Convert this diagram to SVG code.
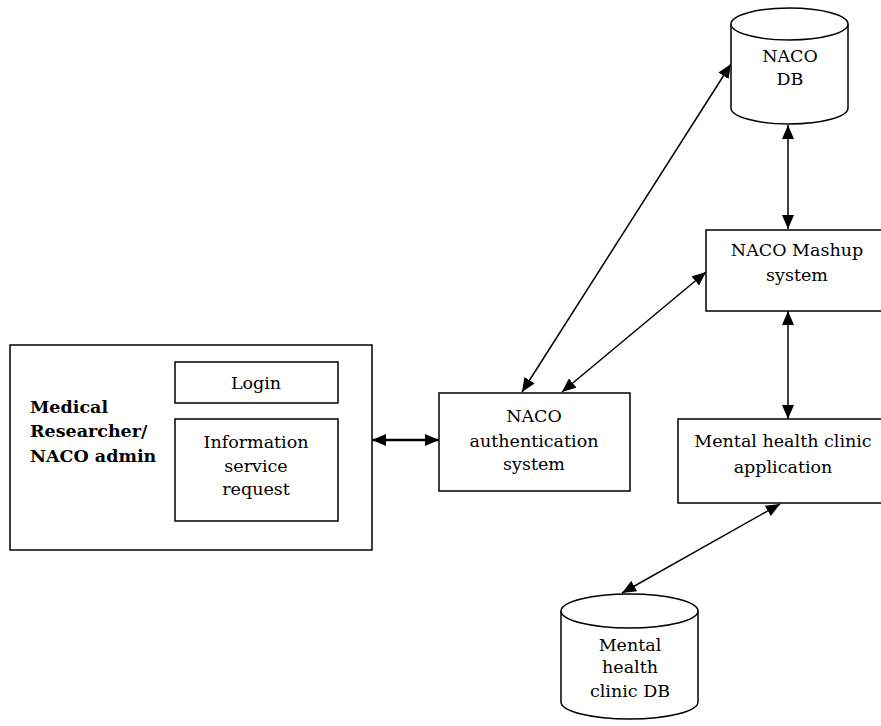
<svg xmlns="http://www.w3.org/2000/svg" width="881" height="726" viewBox="0 0 881 726">
<defs>
<style>
.box{fill:#fff;stroke:#000;stroke-width:1.5}
.t{font-family:"DejaVu Serif","Liberation Serif",serif;font-size:17.5px;fill:#000;text-anchor:middle}
.b{font-family:"DejaVu Serif","Liberation Serif",serif;font-size:17.5px;font-weight:bold;fill:#000}
.c{fill:none;stroke:#000;stroke-width:1.5;marker-start:url(#ah);marker-end:url(#ah)}
</style>
<marker id="ah" markerUnits="userSpaceOnUse" markerWidth="14" markerHeight="12" refX="14" refY="6" orient="auto-start-reverse" viewBox="0 0 14 12">
<path d="M0,0 L14,6 L0,12 z" fill="#000"/>
</marker>
</defs>
<rect width="881" height="726" fill="#fff"/>
<g id="connectors">
<line class="c" x1="372" y1="440" x2="439" y2="440" style="stroke-width:2.5"/>
<line class="c" x1="522" y1="392" x2="731" y2="64"/>
<line class="c" x1="562" y1="392" x2="706" y2="272"/>
<line class="c" x1="788" y1="125" x2="788" y2="229"/>
<line class="c" x1="788" y1="311" x2="788" y2="419"/>
<line class="c" x1="780" y1="504" x2="622" y2="593"/>
</g>
<g id="researcher">
<rect class="box" x="10" y="345" width="362" height="205"/>
<text class="b" x="30" y="413">Medical</text>
<text class="b" x="30" y="437">Researcher/</text>
<text class="b" x="30" y="462">NACO admin</text>
</g>
<g id="login">
<rect class="box" x="175" y="362" width="163" height="41"/>
<text class="t" x="256" y="389">Login</text>
</g>
<g id="info">
<rect class="box" x="175" y="419" width="163" height="102"/>
<text class="t" x="256" y="448">Information</text>
<text class="t" x="256" y="472">service</text>
<text class="t" x="256" y="495">request</text>
</g>
<g id="auth">
<rect class="box" x="439" y="393" width="191" height="98"/>
<text class="t" x="534" y="422">NACO</text>
<text class="t" x="534" y="447">authentication</text>
<text class="t" x="534" y="470">system</text>
</g>
<g id="nacodb">
<path class="box" d="M731,24 L731,108 A58.5,16 0 0 0 848,108 L848,24"/>
<ellipse class="box" cx="789.5" cy="24" rx="58.5" ry="16"/>
<text class="t" x="790" y="62">NACO</text>
<text class="t" x="790" y="85">DB</text>
</g>
<g id="mashup">
<rect class="box" x="706" y="230" width="180" height="81"/>
<text class="t" x="797" y="256">NACO Mashup</text>
<text class="t" x="797" y="281">system</text>
</g>
<g id="clinicapp">
<rect class="box" x="678" y="419" width="208" height="84"/>
<text class="t" x="783" y="447">Mental health clinic</text>
<text class="t" x="783" y="473">application</text>
</g>
<g id="clinicdb">
<path class="box" d="M561,611 L561,702 A68.5,17 0 0 0 698,702 L698,611"/>
<ellipse class="box" cx="629.5" cy="611" rx="68.5" ry="17"/>
<text class="t" x="630" y="651">Mental</text>
<text class="t" x="630" y="673">health</text>
<text class="t" x="630" y="697">clinic DB</text>
</g>
</svg>
